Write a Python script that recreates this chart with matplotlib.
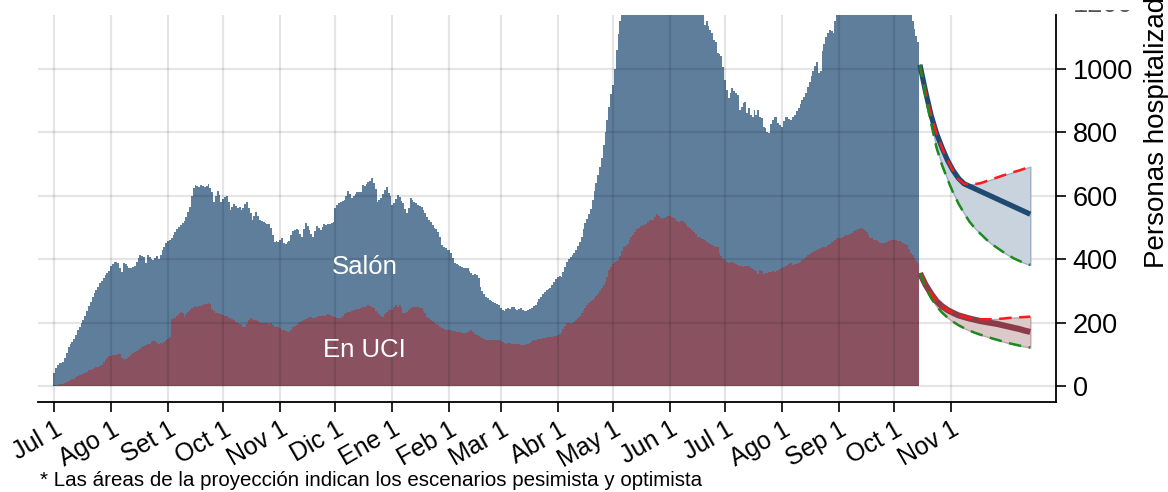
import numpy as np
import pandas as pd
import matplotlib
matplotlib.use('Agg')
import matplotlib.pyplot as plt
import matplotlib.dates as mdates
import matplotlib.transforms as mtransforms

plt.rcParams['font.family'] = ['Liberation Sans', 'DejaVu Sans']

# ---------------- DATA ----------------
first_day = '2020-07-01'

# total hospitalised (Salón + En UCI), daily, per month
hosp_2020_07 = [41, 58, 68, 72, 74, 76, 88, 104, 124, 132, 140, 150, 162, 176, 187, 198, 208, 222, 238, 252, 266, 280, 293, 302, 314, 325, 332, 340, 350, 356, 364]
hosp_2020_08 = [378, 386, 392, 390, 388, 372, 360, 388, 384, 378, 372, 374, 376, 378, 392, 405, 413, 410, 408, 388, 413, 408, 402, 397, 404, 410, 400, 412, 428, 440, 450]
hosp_2020_09 = [458, 462, 467, 476, 487, 494, 502, 508, 513, 520, 532, 548, 566, 600, 624, 634, 630, 628, 634, 630, 628, 632, 637, 625, 612, 581, 600, 616, 602, 581]
hosp_2020_10 = [590, 596, 600, 580, 555, 565, 574, 568, 560, 566, 555, 562, 575, 581, 560, 545, 524, 536, 550, 535, 524, 520, 518, 515, 512, 511, 500, 478, 455, 456, 455]
hosp_2020_11 = [462, 466, 452, 448, 455, 459, 475, 488, 492, 494, 492, 480, 471, 495, 513, 505, 492, 480, 471, 490, 505, 500, 492, 502, 511, 508, 510, 512, 515, 516]
hosp_2020_12 = [560, 571, 577, 580, 584, 587, 600, 616, 605, 592, 598, 606, 613, 612, 612, 634, 630, 636, 642, 648, 657, 640, 623, 581, 588, 593, 605, 618, 628, 610, 598]
hosp_2021_01 = [572, 577, 590, 603, 595, 585, 577, 560, 547, 560, 594, 588, 582, 577, 572, 568, 566, 555, 545, 534, 525, 516, 508, 500, 494, 487, 470, 445, 440, 435, 430]
hosp_2021_02 = [429, 420, 405, 388, 385, 381, 378, 376, 374, 372, 371, 362, 356, 350, 352, 350, 340, 313, 300, 290, 282, 278, 272, 268, 266, 262, 258, 255]
hosp_2021_03 = [245, 240, 238, 244, 246, 243, 249, 250, 244, 240, 242, 246, 240, 238, 236, 240, 244, 247, 252, 257, 266, 274, 282, 290, 298, 302, 306, 309, 318, 329, 338]
hosp_2021_04 = [345, 346, 345, 360, 375, 390, 400, 406, 413, 420, 429, 442, 455, 471, 495, 515, 528, 542, 560, 587, 615, 640, 665, 692, 718, 760, 800, 840, 880, 920]
hosp_2021_05 = [950, 1000, 1060, 1110, 1150, 1190, 1230, 1265, 1300, 1330, 1355, 1375, 1390, 1405, 1415, 1425, 1430, 1438, 1440, 1445, 1448, 1450, 1452, 1450, 1448, 1446, 1444, 1440, 1436, 1432, 1428]
hosp_2021_06 = [1420, 1410, 1400, 1390, 1380, 1370, 1360, 1345, 1330, 1315, 1300, 1285, 1270, 1255, 1240, 1225, 1210, 1190, 1170, 1140, 1150, 1135, 1123, 1113, 1091, 1086, 1050, 1048, 1040, 1005]
hosp_2021_07 = [965, 935, 907, 925, 939, 930, 923, 918, 870, 880, 892, 897, 860, 876, 855, 850, 870, 855, 871, 850, 844, 818, 813, 800, 797, 825, 840, 848, 850, 828, 822]
hosp_2021_08 = [818, 835, 850, 848, 842, 839, 848, 855, 866, 876, 890, 902, 912, 923, 942, 960, 978, 992, 1010, 1023, 987, 995, 1055, 1080, 1102, 1113, 1123, 1120, 1113, 1150, 1190]
hosp_2021_09 = [1220, 1245, 1265, 1280, 1295, 1305, 1315, 1322, 1328, 1332, 1335, 1338, 1340, 1338, 1336, 1332, 1328, 1325, 1320, 1315, 1310, 1305, 1300, 1295, 1290, 1285, 1278, 1270, 1262, 1255]
hosp_2021_10 = [1250, 1242, 1235, 1228, 1220, 1212, 1204, 1196, 1186, 1175, 1150, 1125, 1105, 1085]

# En UCI, daily, per month
uci_2020_07 = [3, 4, 5, 6, 7, 8, 10, 12, 15, 18, 21, 24, 28, 32, 34, 37, 39, 41, 45, 50, 52, 55, 57, 59, 60, 62, 68, 77, 82, 88, 95]
uci_2020_08 = [96, 97, 98, 99, 100, 100, 88, 86, 85, 88, 93, 98, 104, 108, 110, 113, 118, 122, 126, 130, 132, 134, 138, 141, 143, 136, 134, 136, 134, 140, 145]
uci_2020_09 = [150, 156, 212, 214, 214, 220, 226, 234, 230, 219, 226, 234, 240, 246, 250, 252, 250, 252, 254, 256, 258, 259, 262, 259, 243, 238, 232, 230, 228, 228]
uci_2020_10 = [224, 222, 220, 214, 214, 212, 208, 203, 198, 195, 192, 188, 187, 195, 208, 214, 212, 210, 208, 204, 200, 199, 198, 200, 198, 196, 198, 192, 187, 186, 185]
uci_2020_11 = [182, 178, 177, 174, 172, 171, 178, 185, 190, 194, 198, 202, 206, 208, 212, 215, 218, 219, 216, 215, 218, 220, 222, 224, 222, 225, 226, 224, 220, 219]
uci_2020_12 = [218, 216, 214, 214, 220, 226, 231, 233, 234, 236, 240, 240, 242, 244, 246, 248, 250, 252, 256, 254, 250, 245, 238, 234, 228, 222, 219, 228, 234, 240, 244]
uci_2021_01 = [240, 248, 256, 250, 256, 245, 230, 232, 235, 240, 246, 251, 250, 248, 248, 246, 245, 238, 230, 219, 214, 209, 204, 200, 196, 192, 188, 182, 180, 177, 176]
uci_2021_02 = [177, 176, 175, 174, 172, 171, 170, 168, 166, 168, 170, 174, 177, 170, 164, 161, 158, 156, 152, 148, 145, 147, 147, 146, 145, 145, 146, 145]
uci_2021_03 = [142, 138, 135, 134, 135, 136, 134, 133, 134, 133, 133, 131, 130, 131, 132, 134, 137, 141, 145, 147, 148, 149, 150, 152, 153, 155, 155, 156, 155, 157, 159]
uci_2021_04 = [161, 165, 171, 180, 190, 198, 198, 196, 198, 202, 208, 214, 222, 230, 238, 245, 255, 262, 268, 271, 278, 285, 292, 300, 310, 320, 329, 345, 365, 376]
uci_2021_05 = [385, 392, 394, 397, 410, 425, 439, 442, 448, 460, 471, 478, 487, 495, 500, 505, 506, 507, 512, 518, 524, 524, 524, 532, 543, 536, 529, 528, 530, 532, 535]
uci_2021_06 = [535, 532, 530, 526, 522, 519, 520, 522, 514, 508, 503, 498, 492, 486, 480, 471, 470, 468, 464, 460, 455, 450, 447, 445, 442, 440, 439, 419, 410, 400]
uci_2021_07 = [397, 392, 387, 390, 390, 388, 385, 382, 380, 378, 376, 378, 380, 378, 374, 370, 366, 362, 355, 366, 362, 355, 356, 358, 360, 360, 362, 361, 362, 365, 370]
uci_2021_08 = [374, 376, 378, 381, 384, 387, 382, 384, 385, 388, 392, 397, 402, 408, 413, 416, 420, 424, 426, 430, 432, 436, 439, 440, 440, 444, 448, 455, 458, 462, 466]
uci_2021_09 = [466, 468, 470, 474, 476, 478, 480, 484, 488, 492, 494, 496, 497, 495, 492, 485, 476, 466, 466, 462, 460, 456, 452, 450, 450, 452, 455, 458, 460, 461]
uci_2021_10 = [461, 460, 458, 456, 455, 452, 448, 445, 432, 419, 412, 403, 395, 387]

# projection (every 3 days from proj_start)
proj_start = '2021-10-15'
proj_step = 3
proj_hosp_mid = [1013, 930, 855, 797, 752, 712, 680, 655, 638, 630, 622, 614, 606, 598, 590, 582, 574, 566, 558, 550, 542]
proj_hosp_pes = [1013, 930, 855, 797, 752, 712, 680, 652, 638, 636, 637, 640, 646, 652, 658, 664, 669, 675, 680, 686, 692]
proj_hosp_opt = [1013, 915, 830, 752, 697, 652, 610, 575, 545, 518, 497, 480, 463, 448, 436, 424, 413, 403, 395, 388, 382]
proj_uci_mid = [356, 320, 292, 268, 252, 240, 231, 223, 218, 213, 209, 205, 202, 199, 196, 192, 188, 184, 180, 175, 171]
proj_uci_pes = [356, 320, 292, 268, 252, 240, 231, 224, 219, 215, 212, 211, 211, 211, 212, 213, 215, 216, 217, 218, 219]
proj_uci_opt = [356, 312, 278, 252, 232, 216, 203, 192, 183, 175, 168, 162, 157, 151, 146, 141, 136, 132, 128, 125, 122]

month_labels = ['Jul 1', 'Ago 1', 'Set 1', 'Oct 1', 'Nov 1', 'Dic 1', 'Ene 1', 'Feb 1',
                'Mar 1', 'Abr 1', 'May 1', 'Jun 1', 'Jul 1', 'Ago 1', 'Sep 1', 'Oct 1', 'Nov 1']
y_ticks = [0, 200, 400, 600, 800, 1000]

# ---------------- BUILD ----------------
hosp = np.array(hosp_2020_07 + hosp_2020_08 + hosp_2020_09 + hosp_2020_10 + hosp_2020_11 +
                hosp_2020_12 + hosp_2021_01 + hosp_2021_02 + hosp_2021_03 + hosp_2021_04 +
                hosp_2021_05 + hosp_2021_06 + hosp_2021_07 + hosp_2021_08 + hosp_2021_09 +
                hosp_2021_10, dtype=float)
uci = np.array(uci_2020_07 + uci_2020_08 + uci_2020_09 + uci_2020_10 + uci_2020_11 +
               uci_2020_12 + uci_2021_01 + uci_2021_02 + uci_2021_03 + uci_2021_04 +
               uci_2021_05 + uci_2021_06 + uci_2021_07 + uci_2021_08 + uci_2021_09 +
               uci_2021_10, dtype=float)
salon = hosp - uci
dates = pd.date_range(first_day, periods=len(hosp), freq='D')
x = mdates.date2num(dates)

pdates = pd.date_range(proj_start, periods=len(proj_hosp_mid), freq=f'{proj_step}D')
px = mdates.date2num(pdates)

tick_dates = pd.date_range('2020-07-01', periods=len(month_labels), freq='MS')
tx = mdates.date2num(tick_dates)

# ---------------- PLOT ----------------
W, H = 1168, 492
fig = plt.figure(figsize=(W / 100, H / 100), dpi=100)
ax = fig.add_axes([38 / W, 1 - 402 / H, (1056 - 38) / W, (402 - 15) / H])

blue = '#5e7e9c'
red = '#8a5260'

ax.bar(x, uci, width=1.0, color=red, linewidth=0, zorder=1)
ax.bar(x, salon, bottom=uci, width=1.0, color=blue, linewidth=0, zorder=1)

# projections
ax.fill_between(px, proj_hosp_opt, proj_hosp_pes, facecolor='#c9d3de', edgecolor='#9fb0c2',
                linewidth=1, zorder=3)
ax.fill_between(px, proj_uci_opt, proj_uci_pes, facecolor='#dccaca', edgecolor='#c0a4a6',
                linewidth=1, zorder=3)
ax.plot(px, proj_hosp_mid, color='#1f4a72', lw=3.8, solid_capstyle='butt', zorder=4)
ax.plot(px, proj_uci_mid, color='#8c3c48', lw=4.4, solid_capstyle='butt', zorder=4)
for series, col in ((proj_hosp_pes, '#ff1a1a'), (proj_uci_pes, '#ff1a1a'),
                    (proj_hosp_opt, '#1e8a1e'), (proj_uci_opt, '#1e8a1e')):
    ax.plot(px, series, color=col, lw=1.8, dashes=(5, 3), zorder=5)

# texts inside
mid_x = mdates.date2num(pd.Timestamp('2020-12-17'))
ax.text(mid_x, 375, 'Salón', color='white', fontsize=18.5, ha='center', va='center', zorder=6)
ax.text(mid_x, 113, 'En UCI', color='white', fontsize=18.5, ha='center', va='center', zorder=6)

# axes limits
x0 = mdates.date2num(pd.Timestamp('2020-07-01')) - 8.7
x1 = mdates.date2num(pd.Timestamp('2021-11-01')) + 57
ax.set_xlim(x0, x1)
ax.set_ylim(-50, 1170)

# ticks
ax.set_xticks(tx)
ax.set_xticklabels(month_labels, rotation=30, ha='right', rotation_mode='anchor', fontsize=18)
ax.yaxis.tick_right()
ax.set_yticks(y_ticks)
ax.set_yticklabels([str(v) for v in y_ticks], fontsize=19.5)
ax.tick_params(axis='y', which='major', length=7, width=1.2, pad=5, direction='out')
ax.tick_params(axis='x', which='major', length=7, width=1.2, pad=4, direction='out')

# 1200 label, cut at the top of the plotting region as in the original
trans = mtransforms.blended_transform_factory(ax.transAxes, ax.transData)
trans = mtransforms.offset_copy(trans, fig=fig, x=12, y=0, units='points')
t1200 = ax.text(1.0, 1200, '1200', transform=trans, fontsize=19.5, ha='left', va='center',
                color='#555555')
t1200.set_clip_box(mtransforms.Bbox([[1056, 0], [W, H - 10]]))
t1200.set_clip_on(True)

for side in ('left', 'top'):
    ax.spines[side].set_visible(False)
for side in ('right', 'bottom'):
    ax.spines[side].set_linewidth(1.3)
    ax.spines[side].set_color('black')

ax.grid(True, color='black', alpha=0.1, lw=1.6)
ax.set_axisbelow(False)

fig.text(1157 / W, 1 - 118 / H, 'Personas hospitalizadas', rotation=90,
         ha='center', va='center', fontsize=20)
fig.text(40 / W, 1 - 481 / H, '* Las áreas de la proyección indican los escenarios pesimista y optimista',
         ha='left', va='center', fontsize=14.8)

fig.savefig('out.png', dpi=100)
